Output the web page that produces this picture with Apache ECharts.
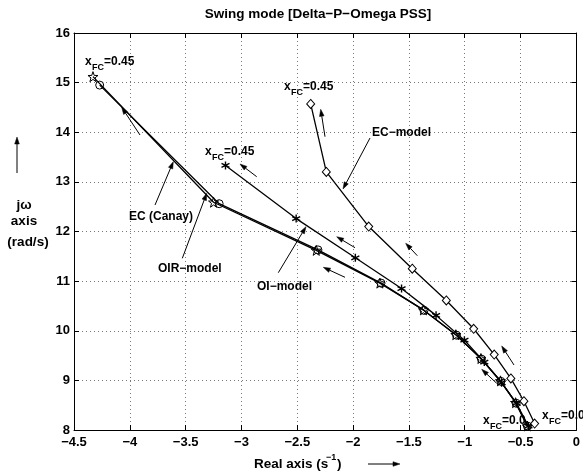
<!DOCTYPE html>
<html><head><meta charset="utf-8">
<script src="https://cdn.jsdelivr.net/npm/echarts@6.0.0/dist/echarts.min.js"></script>
<style>html,body{margin:0;padding:0;background:#fff}#c{width:583px;height:476px}</style>
</head><body><div id="c"></div>
<script>
// ---- data ----
const xTicks = [-4.5, -4, -3.5, -3, -2.5, -2, -1.5, -1, -0.5, 0];
const yTicks = [8, 9, 10, 11, 12, 13, 14, 15, 16];

const canayX = [-4.33, -3.25, -2.33, -1.76, -1.37, -1.08, -0.855, -0.68, -0.545, -0.44];
const canayY = [15.12, 12.59, 11.62, 10.96, 10.42, 9.92, 9.44, 8.99, 8.55, 8.08];

const oirX = [-4.27, -3.20, -2.315, -1.75, -1.365, -1.074, -0.851, -0.676, -0.54, -0.439];
const oirY = [14.95, 12.56, 11.63, 10.96, 10.41, 9.91, 9.43, 8.98, 8.54, 8.08];

const oiX = [-3.143, -2.51, -1.98, -1.566, -1.257, -1.003, -0.825, -0.67, -0.537, -0.43];
const oiY = [13.33, 12.26, 11.47, 10.85, 10.31, 9.81, 9.37, 8.95, 8.54, 8.08];

const ecmX = [-2.38, -2.24, -1.86, -1.47, -1.165, -0.92, -0.736, -0.587, -0.47, -0.374];
const ecmY = [14.57, 13.20, 12.10, 11.25, 10.61, 10.04, 9.52, 9.04, 8.58, 8.13];

const titleText = 'Swing mode [Delta\u2212P\u2212Omega PSS]';

// ---- helpers ----
const FONT = '"Liberation Sans", Arial, Helvetica, sans-serif';
function pairs(xs, ys) { return xs.map((x, i) => [x, ys[i]]); }
function minus(v) { return v === 0 ? '0' : String(v).replace('-', '\u2212'); }

function txt(s, x, y, size, align) {
  return { type: 'text', z: 100, style: { text: s, x: x, y: y, font: 'bold ' + size + 'px ' + FONT,
    fill: '#000', textAlign: align || 'left', textVerticalAlign: 'middle' } };
}
function arrow(x1, y1, x2, y2) {
  const dx = x2 - x1, dy = y2 - y1, L = Math.hypot(dx, dy);
  const ux = dx / L, uy = dy / L, nx = -uy, ny = ux, hl = 7, hw = 2.3;
  const bx = x2 - ux * hl, by = y2 - uy * hl;
  return [
    { type: 'line', z: 100, shape: { x1: x1, y1: y1, x2: bx, y2: by }, style: { stroke: '#000', lineWidth: 1 } },
    { type: 'polygon', z: 100, shape: { points: [[x2, y2], [bx + nx * hw, by + ny * hw], [bx - nx * hw, by - ny * hw]] },
      style: { fill: '#000', stroke: '#000', lineWidth: 0.5 } }
  ];
}
function xfc(x, y, rest) {
  return [txt('x', x, y, 12), txt('FC', x + 7, y + 6, 9), txt(rest, x + 19, y, 12)];
}

const asterisk = 'path://M0,-10L0,10M-8.66,-5L8.66,5M-8.66,5L8.66,-5';
const star = 'path://M0,-10L2.35,-3.24L9.51,-3.09L3.8,1.24L5.88,8.09L0,4L-5.88,8.09L-3.8,1.24L-9.51,-3.09L-2.35,-3.24Z';

const lineStyle = { color: '#000', width: 1.3 };
function ser(name, data, symbol, size, fill, z, bw) {
  return { name: name, type: 'line', data: data, symbol: symbol, symbolSize: size, showSymbol: true,
    lineStyle: lineStyle, z: z, animation: false,
    itemStyle: { color: fill, borderColor: '#000', borderWidth: bw || 1 } };
}

const axisCommon = {
  axisLine: { show: true, onZero: false, lineStyle: { color: '#000', width: 1 } },
  axisTick: { show: true, inside: true, length: 5, lineStyle: { color: '#000' } },
};
const gridLine = { show: true, lineStyle: { color: '#777', width: 1, type: [1, 3] } };

const graphic = [
  txt(titleText, 318, 14, 13.5, 'center'),
  // x-axis title
  txt('Real axis (s', 254, 464, 13.5),
  txt('\u22121', 326, 458, 9),
  txt(')', 337, 464, 13.5),
  ...arrow(368, 464, 400, 464),
  // y-axis title
  ...arrow(17, 173, 17, 137),
  txt('j\u03c9', 24, 205, 13.5, 'center'),
  txt('axis', 24, 221, 13.5, 'center'),
  txt('(rad/s)', 28, 242, 13.5, 'center'),
  // labels
  ...xfc(85, 62, '=0.45'),
  ...xfc(205, 152, '=0.45'),
  ...xfc(284, 87, '=0.45'),
  ...xfc(483, 421, '=0.0'),
  ...xfc(542, 416, '=0.0'),
  txt('EC\u2212model', 372, 133, 12),
  txt('EC (Canay)', 129, 217, 12),
  txt('OIR\u2212model', 158, 269, 12),
  txt('OI\u2212model', 257, 287, 12),
  // label arrows
  ...arrow(370, 138, 343, 189),
  ...arrow(155, 205, 173.3, 161.7),
  ...arrow(182.3, 258.3, 206.7, 193.3),
  ...arrow(278.3, 272.7, 306, 226.7),
  // direction arrows
  ...arrow(140, 135, 121.7, 107.3),
  ...arrow(256.7, 176.7, 240, 164),
  ...arrow(325, 136.7, 320.7, 109.3),
  ...arrow(355, 247.7, 336.7, 236.7),
  ...arrow(345, 277.3, 323.3, 267.3),
  ...arrow(417.3, 255.7, 405.7, 243.3),
  ...arrow(514, 365, 501.7, 346),
  ...arrow(496.7, 383.3, 481.7, 369.3)
];

const chart = echarts.init(document.getElementById('c'), null, { renderer: 'canvas' });
chart.setOption({
  animation: false,
  backgroundColor: '#fff',
  grid: { left: 74, right: 3, top: 33, bottom: 46, containLabel: false },
  xAxis: [
    Object.assign({ type: 'value', position: 'bottom', min: xTicks[0], max: xTicks[xTicks.length - 1], interval: 0.5,
      axisLabel: { show: true, margin: 6, color: '#000', fontFamily: FONT, fontWeight: 'bold', fontSize: 13, formatter: minus },
      splitLine: gridLine }, axisCommon),
    Object.assign({ type: 'value', position: 'top', min: xTicks[0], max: xTicks[xTicks.length - 1], interval: 0.5,
      axisLabel: { show: false }, splitLine: { show: false } }, axisCommon)
  ],
  yAxis: [
    Object.assign({ type: 'value', position: 'left', min: yTicks[0], max: yTicks[yTicks.length - 1], interval: 1,
      axisLabel: { show: true, margin: 4, color: '#000', fontFamily: FONT, fontWeight: 'bold', fontSize: 13 },
      splitLine: gridLine }, axisCommon),
    Object.assign({ type: 'value', position: 'right', min: yTicks[0], max: yTicks[yTicks.length - 1], interval: 1,
      axisLabel: { show: false }, splitLine: { show: false } }, axisCommon)
  ],
  series: [
    ser('EC (Canay)', pairs(canayX, canayY), star, 10, 'rgba(0,0,0,0)', 2, 1),
    ser('OIR-model', pairs(oirX, oirY), 'circle', 8, 'rgba(255,255,255,0)', 3, 1),
    ser('OI-model', pairs(oiX, oiY), asterisk, 8, 'rgba(0,0,0,0)', 4, 1.4),
    ser('EC-model', pairs(ecmX, ecmY), 'diamond', [8, 9], '#fff', 5, 1)
  ],
  graphic: graphic
});
</script></body></html>
